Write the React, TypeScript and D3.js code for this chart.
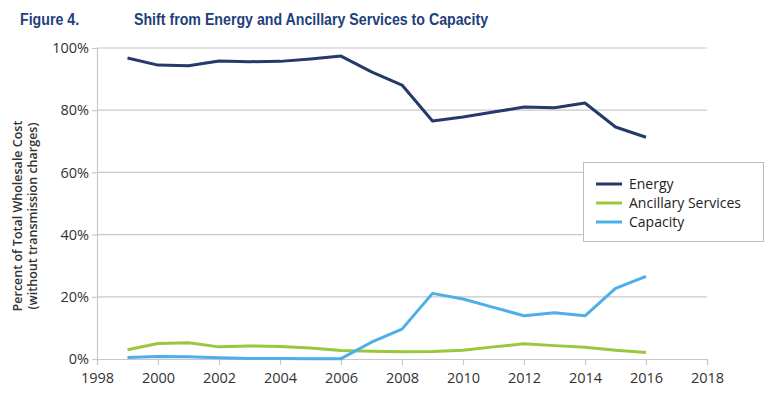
import React, { useRef, useEffect } from "react";
import * as d3 from "d3";

const years = [1999, 2000, 2001, 2002, 2003, 2004, 2005, 2006, 2007, 2008, 2009, 2010, 2011, 2012, 2013, 2014, 2015, 2016];
const energy = [96.8, 94.5, 94.3, 95.8, 95.6, 95.7, 96.5, 97.4, 92.3, 88.1, 76.5, 77.8, 79.4, 81.0, 80.8, 82.3, 74.6, 71.3];
const ancillary = [3.0, 5.0, 5.2, 3.9, 4.2, 4.0, 3.5, 2.7, 2.5, 2.3, 2.4, 2.8, 3.9, 4.9, 4.3, 3.8, 2.8, 2.1];
const capacity = [0.5, 0.8, 0.7, 0.4, 0.2, 0.2, 0.1, 0.1, 5.4, 9.6, 21.1, 19.3, 16.6, 13.9, 14.9, 13.9, 22.7, 26.6];
const xTicks = [1998, 2000, 2002, 2004, 2006, 2008, 2010, 2012, 2014, 2016, 2018];
const yTicks = [0, 20, 40, 60, 80, 100];

const seriesList = [
  { name: "Energy", values: energy, color: "#25396b" },
  { name: "Ancillary Services", values: ancillary, color: "#98c93c" },
  { name: "Capacity", values: capacity, color: "#4daee8" },
];

function Chart() {
  const svgRef = useRef<SVGSVGElement>(null);
  const width = 774;
  const height = 398;

  useEffect(() => {
    const svg = d3.select(svgRef.current);
    svg.selectAll("*").remove();

    const x = d3.scaleLinear().domain([1998, 2018]).range([97, 707]);
    const y = d3.scaleLinear().domain([0, 100]).range([359, 48]);
    const font = "'Open Sans', sans-serif";

    // title (condensed via horizontal scale)
    const title = svg.append("g").attr("transform", "translate(20,25) scale(0.86,1)")
      .attr("font-family", "'Liberation Sans', Arial, sans-serif")
      .attr("font-weight", "bold").attr("font-size", 16.5).attr("fill", "#1f3f7c");
    title.append("text").attr("x", 0).attr("y", 0).text("Figure 4.");
    title.append("text").attr("x", 114 / 0.86).attr("y", 0)
      .text("Shift from Energy and Ancillary Services to Capacity");

    // gridlines
    svg.append("g").selectAll("line").data(yTicks.filter((d) => d > 0)).join("line")
      .attr("x1", x(1998)).attr("x2", x(2018))
      .attr("y1", (d) => y(d)).attr("y2", (d) => y(d))
      .attr("stroke", "#c8c8c8").attr("stroke-width", 1.2);

    // y axis
    const yAxis = svg.append("g").attr("transform", `translate(${x(1998)},0)`)
      .call(d3.axisLeft(y).tickValues(yTicks).tickSize(5).tickFormat((d) => `${d}%`));
    yAxis.select(".domain").attr("stroke", "#c8c8c8").attr("stroke-width", 1.2);
    yAxis.selectAll(".tick line").attr("stroke", "#c8c8c8").attr("stroke-width", 1.2);
    yAxis.selectAll(".tick text").attr("font-family", font).attr("font-size", 14.5)
      .attr("fill", "#333").attr("x", -8);

    // x axis
    const xAxis = svg.append("g").attr("transform", `translate(0,${y(0)})`)
      .call(d3.axisBottom(x).tickValues(xTicks).tickSize(6).tickFormat(d3.format("d")));
    xAxis.select(".domain").attr("stroke", "#c8c8c8").attr("stroke-width", 1.2);
    xAxis.selectAll(".tick line").attr("stroke", "#c8c8c8").attr("stroke-width", 1.2);
    xAxis.selectAll(".tick text").attr("font-family", font).attr("font-size", 14.5)
      .attr("fill", "#333").attr("dy", "1.05em");

    // y title
    const yt = svg.append("text").attr("transform", `translate(0,216) rotate(-90)`)
      .attr("text-anchor", "middle").attr("font-family", font).attr("font-size", 12.5)
      .attr("font-weight", 600).attr("fill", "#333");
    yt.append("tspan").attr("x", 0).attr("y", 22).text("Percent of Total Wholesale Cost");
    yt.append("tspan").attr("x", 0).attr("y", 37).text("(without transmission charges)");

    // lines
    const line = d3.line<number>().x((_, i) => x(years[i])).y((d) => y(d));
    seriesList.forEach((s) => {
      svg.append("path").datum(s.values)
        .attr("fill", "none").attr("stroke", s.color).attr("stroke-width", 3)
        .attr("stroke-linejoin", "round").attr("d", line);
    });

    // legend
    const lg = svg.append("g").attr("transform", "translate(583,162)");
    lg.append("rect").attr("x", 0.5).attr("y", 0.5).attr("width", 180).attr("height", 79)
      .attr("fill", "#fff").attr("stroke", "#bdbdbd");
    seriesList.forEach((s, i) => {
      const ly = 22 + i * 19;
      lg.append("line").attr("x1", 13).attr("x2", 39).attr("y1", ly).attr("y2", ly)
        .attr("stroke", s.color).attr("stroke-width", 3);
      lg.append("text").attr("x", 46).attr("y", ly + 5).attr("font-family", font)
        .attr("font-size", 14).attr("fill", "#222").text(s.name);
    });
  }, []);

  return <svg ref={svgRef} width={width} height={height} style={{ display: "block" }} />;
}

export default function App() {
  return (
    <div style={{ margin: -8 }}>
      <Chart />
    </div>
  );
}
